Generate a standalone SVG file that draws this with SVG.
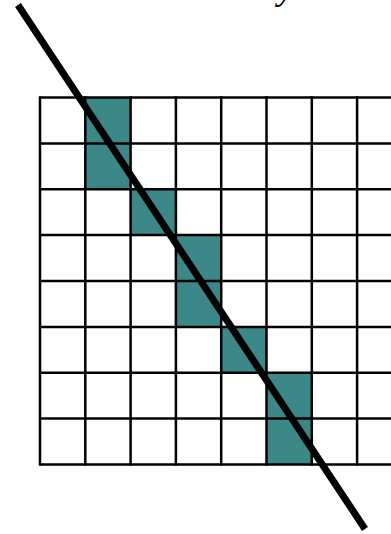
<svg xmlns="http://www.w3.org/2000/svg" width="391" height="534" viewBox="0 0 391 534">
<style>
.cell{fill:#3c8788}
.g{stroke:#000;stroke-width:2.5;fill:none}
.lbl{font-family:"Liberation Serif",serif;font-style:italic;font-size:36px;fill:#000}
</style>
<rect width="391" height="534" fill="#fff"/>
<g id="label">
<text class="lbl" x="126" y="-8">g</text>
<text class="lbl" x="278" y="-1">y</text>
</g>
<g id="cells">
<rect class="cell" x="85.3" y="97.5" width="45.3" height="91.8"/>
<rect class="cell" x="130.6" y="189.3" width="45.3" height="45.8"/>
<rect class="cell" x="175.9" y="235.1" width="45.3" height="91.8"/>
<rect class="cell" x="221.2" y="326.9" width="45.3" height="45.9"/>
<rect class="cell" x="266.5" y="372.8" width="45.3" height="91.7"/>
</g>
<g id="grid" class="g">
<path d="M40 97.5H391M40 143.4H391M40 189.3H391M40 235.1H391M40 281H391M40 326.9H391M40 372.8H391M40 418.6H391M40 464.5H391"/>
<path d="M40 96.3V465.7M85.3 96.3V465.7M130.6 96.3V465.7M175.9 96.3V465.7M221.2 96.3V465.7M266.5 96.3V465.7M311.8 96.3V465.7M357.1 96.3V465.7"/>
</g>
<g id="connectors">
<line x1="18" y1="5" x2="365" y2="529" stroke="#000" stroke-width="7"/>
</g>
</svg>
